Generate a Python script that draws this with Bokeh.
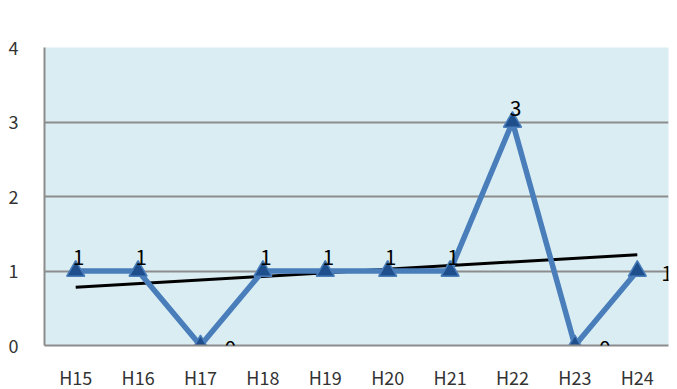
import numpy as np
from bokeh.plotting import figure
from bokeh.models import ColumnDataSource, Label, FactorRange, Range1d, FixedTicker
from bokeh.embed import file_html
from bokeh.resources import INLINE

years = ["H15", "H16", "H17", "H18", "H19", "H20", "H21", "H22", "H23", "H24"]
deaths = [1, 1, 0, 1, 1, 1, 1, 3, 0, 1]
title_text = "運輸交通業死亡災害経年変化"
unit_text = "人"

FONT = "Noto Sans CJK JP"

p = figure(frame_width=624, frame_height=298, x_range=FactorRange(*years), y_range=Range1d(0, 4),
           output_backend="svg", toolbar_location=None,
           min_border_left=44, min_border_right=9, min_border_top=47, min_border_bottom=44)
p.background_fill_color = "#daedf3"
p.border_fill_color = "white"
p.outline_line_color = None

p.xgrid.grid_line_color = None
p.ygrid.grid_line_color = "#8c8c8c"
p.ygrid.grid_line_width = 2
p.yaxis.ticker = FixedTicker(ticks=[0, 1, 2, 3, 4])

for ax in (p.xaxis[0], p.yaxis[0]):
    ax.major_tick_line_color = None
    ax.minor_tick_line_color = None
    ax.axis_line_color = "#8c8c8c"
    ax.axis_line_width = 2
    ax.major_label_text_font = FONT
    ax.major_label_text_font_size = "18px"
    ax.major_label_text_color = "#333333"
p.xaxis.major_label_standoff = 12
p.yaxis.major_label_standoff = 20

src = ColumnDataSource(dict(x=years, y=deaths))

# trend line from least squares fit
idx = np.arange(len(deaths))
k, b = np.polyfit(idx, deaths, 1)
trend_y = [b, b + k * (len(deaths) - 1)]
p.line(x=[years[0], years[-1]], y=trend_y, line_color="black", line_width=3)

p.line(x="x", y="y", source=src, line_color="#4a7ebb", line_width=5.5)
p.scatter(x="x", y="y", source=src, marker="triangle", size=18,
          fill_color="#1f4e8c", line_color="#4a7ebb", line_width=1.5)

# data labels: above for most points, right for a few
right_side = {2, 8, 9}
for i, v in enumerate(deaths):
    if i in right_side:
        xo, yo, align, base = 24, -2, "left", "middle"
    else:
        xo, yo, align, base = 3, 6, "center", "bottom"
    p.add_layout(Label(x=i + 0.5, y=v, x_offset=xo, y_offset=yo, text=str(v),
                       text_font=FONT, text_font_size="21px", text_color="black",
                       text_align=align, text_baseline=base))

p.add_layout(Label(x=242, y=333, x_units="screen", y_units="screen",
                   text=title_text, text_font=FONT, text_font_size="25px",
                   text_font_style="bold", text_color="black",
                   text_align="center", text_baseline="bottom"))
p.add_layout(Label(x=-12, y=314, x_units="screen", y_units="screen",
                   text=unit_text, text_font=FONT, text_font_size="15px",
                   text_color="#222222", text_align="left", text_baseline="bottom"))

open("out.html", "w").write(file_html(p, INLINE))
